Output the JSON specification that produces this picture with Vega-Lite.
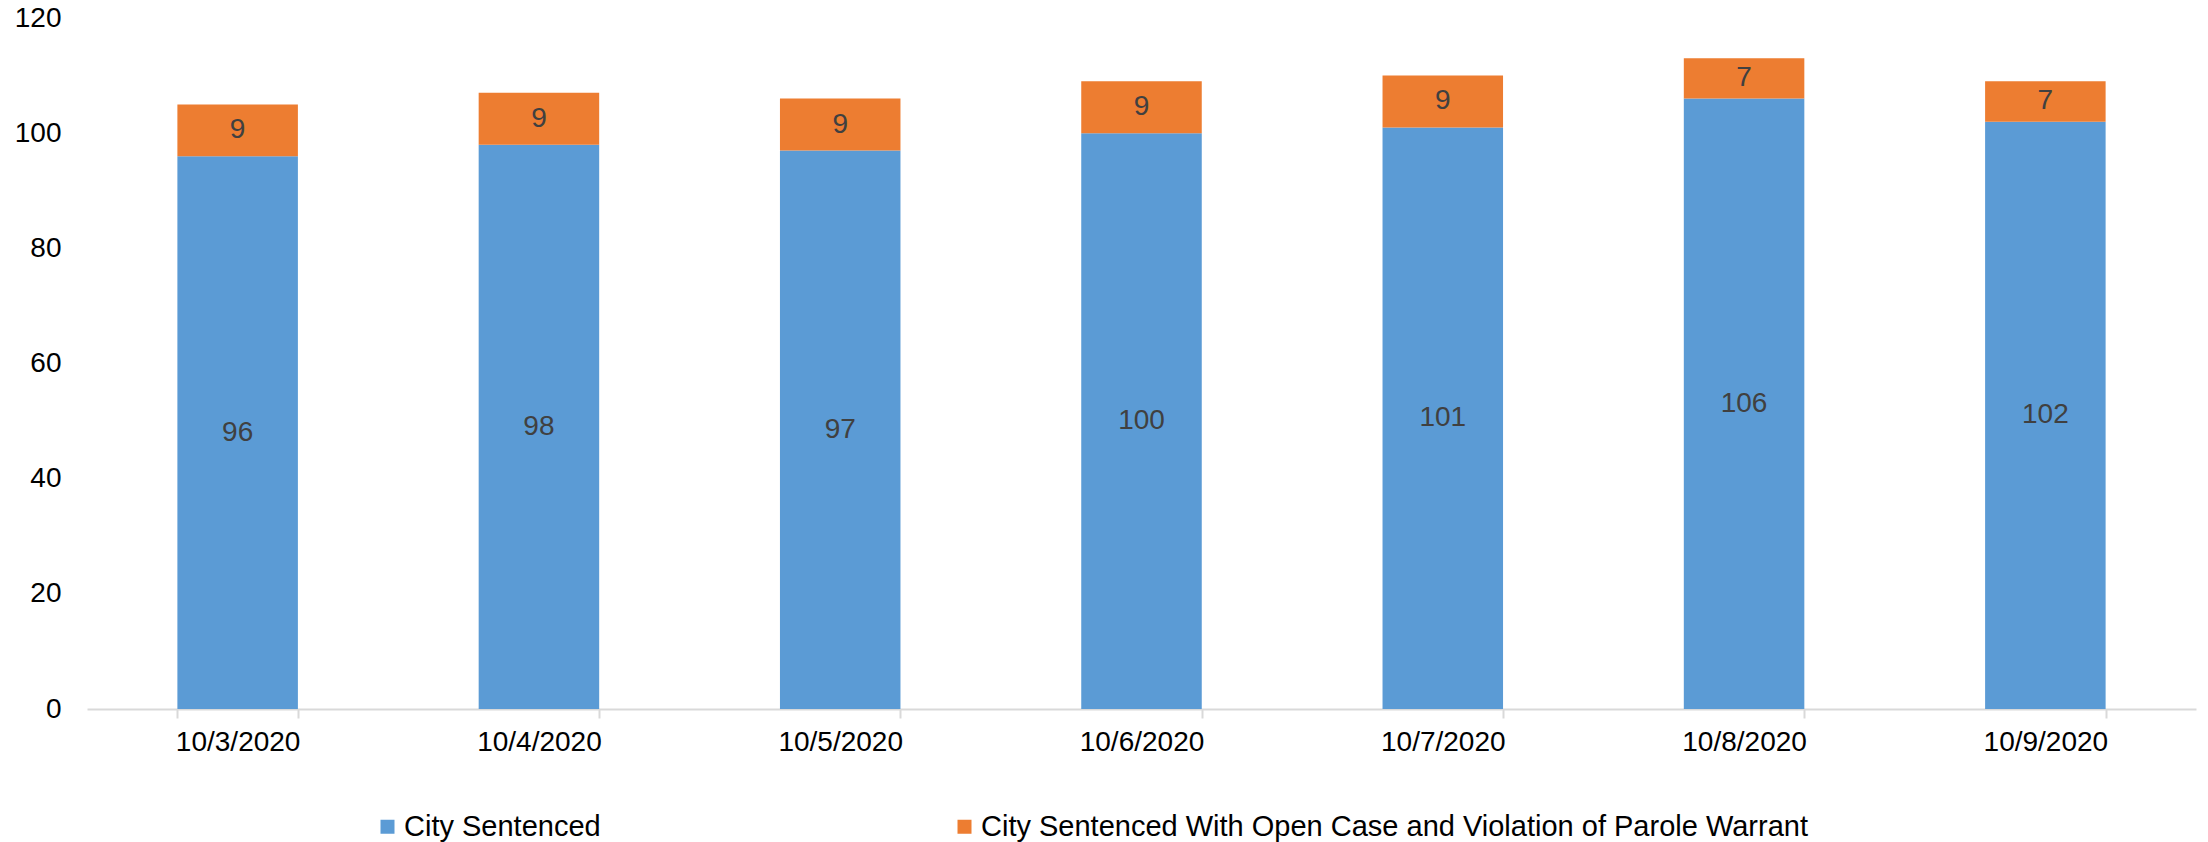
{
  "$schema": "https://vega.github.io/schema/vega-lite/v6.json",
  "width": 2109,
  "height": 691,
  "autosize": {"type": "none"},
  "padding": {"left": 87, "top": 18, "right": 12, "bottom": 133},
  "background": "white",
  "config": {
    "view": {"stroke": null},
    "font": "Liberation Sans"
  },
  "data": {
    "values": [
      {"date": "10/3/2020", "series": "City Sentenced", "value": 96, "ord": 1},
      {"date": "10/3/2020", "series": "City Sentenced With Open Case and Violation of Parole Warrant", "value": 9, "ord": 2},
      {"date": "10/4/2020", "series": "City Sentenced", "value": 98, "ord": 1},
      {"date": "10/4/2020", "series": "City Sentenced With Open Case and Violation of Parole Warrant", "value": 9, "ord": 2},
      {"date": "10/5/2020", "series": "City Sentenced", "value": 97, "ord": 1},
      {"date": "10/5/2020", "series": "City Sentenced With Open Case and Violation of Parole Warrant", "value": 9, "ord": 2},
      {"date": "10/6/2020", "series": "City Sentenced", "value": 100, "ord": 1},
      {"date": "10/6/2020", "series": "City Sentenced With Open Case and Violation of Parole Warrant", "value": 9, "ord": 2},
      {"date": "10/7/2020", "series": "City Sentenced", "value": 101, "ord": 1},
      {"date": "10/7/2020", "series": "City Sentenced With Open Case and Violation of Parole Warrant", "value": 9, "ord": 2},
      {"date": "10/8/2020", "series": "City Sentenced", "value": 106, "ord": 1},
      {"date": "10/8/2020", "series": "City Sentenced With Open Case and Violation of Parole Warrant", "value": 7, "ord": 2},
      {"date": "10/9/2020", "series": "City Sentenced", "value": 102, "ord": 1},
      {"date": "10/9/2020", "series": "City Sentenced With Open Case and Violation of Parole Warrant", "value": 7, "ord": 2}
    ]
  },
  "encoding": {
    "x": {
      "field": "date",
      "type": "nominal",
      "sort": null,
      "scale": {"paddingInner": 0.6, "paddingOuter": 0.3},
      "axis": {
        "title": null,
        "labelAngle": 0,
        "labelFontSize": 28,
        "labelColor": "#000000",
        "labelPadding": 10,
        "domainColor": "#d9d9d9",
        "domainWidth": 2,
        "tickColor": "#d9d9d9",
        "tickWidth": 2,
        "tickSize": 9,
        "tickBand": "extent"
      }
    }
  },
  "layer": [
    {
      "mark": {"type": "bar"},
      "encoding": {
        "y": {
          "field": "value",
          "type": "quantitative",
          "stack": "zero",
          "scale": {"domain": [0, 120], "nice": false},
          "axis": {
            "title": null,
            "values": [0, 20, 40, 60, 80, 100, 120],
            "grid": false,
            "domain": false,
            "ticks": false,
            "labelFontSize": 28,
            "labelColor": "#000000",
            "labelPadding": 26
          }
        },
        "color": {
          "field": "series",
          "type": "nominal",
          "scale": {
            "domain": ["City Sentenced", "City Sentenced With Open Case and Violation of Parole Warrant"],
            "range": ["#5B9BD5", "#ED7D31"]
          },
          "legend": {
            "title": null,
            "orient": "none",
            "direction": "horizontal",
            "legendX": 286,
            "legendY": 794,
            "symbolType": "square",
            "symbolSize": 196,
            "symbolStrokeWidth": 0,
            "labelFontSize": 29,
            "labelColor": "#000000",
            "labelOffset": 2,
            "labelLimit": 1200,
            "columnPadding": 349,
            "gridAlign": "each"
          }
        },
        "order": {"field": "ord", "type": "quantitative"}
      }
    },
    {
      "mark": {"type": "text", "fontSize": 28, "color": "#404040", "baseline": "middle"},
      "encoding": {
        "y": {"field": "value", "type": "quantitative", "stack": "zero", "bandPosition": 0.5},
        "text": {"field": "value", "type": "quantitative"},
        "detail": {"field": "series"},
        "order": {"field": "ord", "type": "quantitative"}
      }
    }
  ]
}
